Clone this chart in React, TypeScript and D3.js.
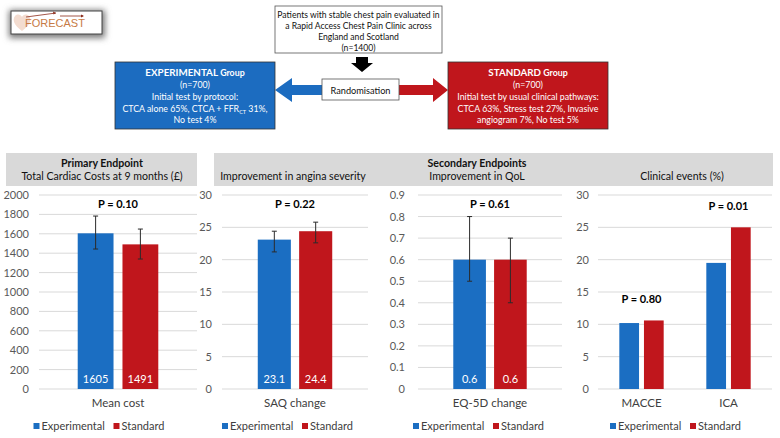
import React from 'react';
import * as d3 from 'd3';

// ---------- data ----------
const seriesNames = ['Experimental', 'Standard'];
const seriesColors = ['#1b6ec2', '#c0161c'];

const costCategories = ['Mean cost'];
const costExperimental = [1605];
const costStandard = [1491];
const costExpError = [[1443, 1783]];
const costStdError = [[1340, 1649]];
const costTicks = [0, 200, 400, 600, 800, 1000, 1200, 1400, 1600, 1800, 2000];
const costPValues = ['P = 0.10'];
const costBarLabels = [['1605'], ['1491']];

const saqCategories = ['SAQ change'];
const saqExperimental = [23.1];
const saqStandard = [24.4];
const saqExpError = [[21.2, 24.4]];
const saqStdError = [[22.6, 25.8]];
const saqTicks = [0, 5, 10, 15, 20, 25, 30];
const saqPValues = ['P = 0.22'];
const saqBarLabels = [['23.1'], ['24.4']];

const eqCategories = ['EQ-5D change'];
const eqExperimental = [0.6];
const eqStandard = [0.6];
const eqExpError = [[0.5, 0.8]];
const eqStdError = [[0.4, 0.7]];
const eqTicks = [0, 0.1, 0.2, 0.3, 0.4, 0.5, 0.6, 0.7, 0.8, 0.9];
const eqPValues = ['P = 0.61'];
const eqBarLabels = [['0.6'], ['0.6']];

const eventCategories = ['MACCE', 'ICA'];
const eventExperimental = [10.2, 19.5];
const eventStandard = [10.6, 25];
const eventTicks = [0, 5, 10, 15, 20, 25, 30];
const eventPValues = ['P = 0.80', 'P = 0.01'];

const FONT = 'Lato, "Open Sans", sans-serif';
const Y_TOP = 195;
const Y_BOTTOM = 389;

type PanelProps = {
  categories: string[];
  values: number[][];
  errors?: number[][][];
  ticks: number[];
  tickFmt: (v: number) => string;
  pValues: string[];
  barLabels?: string[][];
  labelEnd: number;
  x0: number;
  x1: number;
  outer0: number;
  outer1: number;
};

function Panel(p: PanelProps) {
  const y = d3.scaleLinear().domain([0, p.ticks[p.ticks.length - 1]]).range([Y_BOTTOM, Y_TOP]);
  const xc = d3.scaleBand<string>().domain(p.categories).range([p.x0, p.x1]).padding(0);
  const groupW = xc.bandwidth() * 0.51;
  const xs = d3.scaleBand<string>().domain(seriesNames).range([0, groupW]).paddingInner(0.2).paddingOuter(0);
  const bw = xs.bandwidth();
  const legendCenter = (p.outer0 + p.outer1) / 2;
  return (
    <g>
      {p.ticks.map((t) => (
        <g key={t}>
          <line x1={p.x0} x2={p.x1} y1={y(t)} y2={y(t)} stroke="#d9d9d9" strokeWidth={1} />
          <text x={p.labelEnd} y={y(t) + 4} textAnchor="end" fontSize={11} fill="#595959">
            {p.tickFmt(t)}
          </text>
        </g>
      ))}
      {p.categories.map((c, ci) => {
        const gx = (xc(c) as number) + (xc.bandwidth() - groupW) / 2;
        return (
          <g key={c}>
            {seriesNames.map((s, si) => {
              const v = p.values[si][ci];
              const bx = gx + (xs(s) as number);
              const err = p.errors ? p.errors[si][ci] : null;
              return (
                <g key={s}>
                  <rect x={bx} y={y(v)} width={bw} height={y(0) - y(v)} fill={seriesColors[si]} />
                  {p.barLabels && (
                    <text x={bx + bw / 2} y={383} textAnchor="middle" fontSize={11} fill="#ffffff">
                      {p.barLabels[si][ci]}
                    </text>
                  )}
                  {err && (
                    <g stroke="#2b2b2b" strokeWidth={1}>
                      <line x1={bx + bw / 2} x2={bx + bw / 2} y1={y(err[0])} y2={y(err[1])} />
                      <line x1={bx + bw / 2 - 2.5} x2={bx + bw / 2 + 2.5} y1={y(err[0])} y2={y(err[0])} />
                      <line x1={bx + bw / 2 - 2.5} x2={bx + bw / 2 + 2.5} y1={y(err[1])} y2={y(err[1])} />
                    </g>
                  )}
                </g>
              );
            })}
            {(() => {
              const tops = seriesNames.map((_, si) =>
                y(p.errors ? p.errors[si][ci][1] : p.values[si][ci])
              );
              const top = Math.min(...tops);
              const py = Math.max(Y_TOP + 9, top - 21);
              return (
                <text x={gx + groupW / 2} y={py + 4} textAnchor="middle" fontSize={11} fontWeight="bold" fill="#000">
                  {p.pValues[ci]}
                </text>
              );
            })()}
            <text x={gx + groupW / 2} y={407} textAnchor="middle" fontSize={11.5} fill="#404040">
              {c}
            </text>
          </g>
        );
      })}
      {(() => {
        const w1 = 70;
        const w2 = 56;
        const start = legendCenter - (w1 + w2 + 10) / 2;
        return (
          <g fontSize={11} fill="#404040">
            <rect x={start} y={423} width={6} height={6} fill={seriesColors[0]} />
            <text x={start + 8} y={430}>{seriesNames[0]}</text>
            <rect x={start + w1 + 10} y={423} width={6} height={6} fill={seriesColors[1]} />
            <text x={start + w1 + 18} y={430}>{seriesNames[1]}</text>
          </g>
        );
      })()}
    </g>
  );
}

function Flowchart() {
  const blue = '#1c6cc0';
  const red = '#c0161c';
  return (
    <g>
      <defs>
        <filter id="sh" x="-20%" y="-40%" width="140%" height="180%">
          <feGaussianBlur stdDeviation="3" />
        </filter>
      </defs>
      {/* logo */}
      <rect x={9} y={10} width={96} height={28} fill="#777" filter="url(#sh)" />
      <rect x={11} y={11} width={91} height={23} fill="#fff" stroke="#444" strokeWidth={1} />
      <path d="M22,31 C14,25 12,20 15,16 C18,13 21,15 22,17 C23,15 26,13 29,16 C32,20 30,25 22,31 Z" fill="#f3dcd0" />
      <text x={25} y={27} fontSize={11} fill="#c77a45" fontFamily="Arial, sans-serif">FORECAST</text>
      <line x1={26} y1={17} x2={56} y2={13} stroke="#8b2b1a" strokeWidth={0.8} />
      <path d="M56,13 l-3,-1.5 l0.5,3 z" fill="#8b2b1a" />
      <line x1={60} y1={16} x2={83} y2={16} stroke="#8b2b1a" strokeWidth={0.8} />
      <path d="M84,16 l-3,-1.5 l0,3 z" fill="#8b2b1a" />

      {/* top box */}
      <rect x={275} y={6} width={167} height={47} fill="#fff" stroke="#555" strokeWidth={0.8} />
      <g fontSize={8.6} textAnchor="middle" fill="#111">
        <text x={358.5} y={18}>Patients with stable chest pain evaluated in</text>
        <text x={358.5} y={29}>a Rapid Access Chest Pain Clinic across</text>
        <text x={358.5} y={40}>England and Scotland</text>
        <text x={358.5} y={51}>(n=1400)</text>
      </g>
      {/* down arrow */}
      <path d="M356,57 L368,57 L368,63 L373,63 L362,72 L351,63 L356,63 Z" fill="#000" />
      {/* blue arrow */}
      <path d="M322,85 L292,85 L292,78 L275,90 L292,102 L292,95 L322,95 Z" fill={blue} />
      {/* red arrow */}
      <path d="M399,85 L433,85 L433,78 L448,90 L433,102 L433,95 L399,95 Z" fill={red} />
      <rect x={322} y={79} width={77} height={21} fill="#fff" stroke="#555" strokeWidth={0.8} />
      <text x={360.5} y={93.5} fontSize={9.2} textAnchor="middle" fill="#111">Randomisation</text>

      {/* experimental box */}
      <rect x={115} y={62} width={160} height={67} fill={blue} stroke="#333" strokeWidth={0.8} />
      <g fontSize={8.8} textAnchor="middle" fill="#fff">
        <text x={195} y={76} fontWeight="bold"><tspan fontSize={9.8}>EXPERIMENTAL</tspan> Group</text>
        <text x={195} y={88}>(n=700)</text>
        <text x={195} y={100}>Initial test by protocol:</text>
        <text x={195} y={112}>CTCA alone 65%, CTCA + FFR<tspan fontSize={5.5} dy={2}>CT</tspan><tspan dy={-2}> 31%,</tspan></text>
        <text x={195} y={123}>No test 4%</text>
      </g>

      {/* standard box */}
      <rect x={448} y={62} width={160} height={67} fill={red} stroke="#333" strokeWidth={0.8} />
      <g fontSize={8.8} textAnchor="middle" fill="#fff">
        <text x={528} y={76} fontWeight="bold"><tspan fontSize={9.8}>STANDARD</tspan> Group</text>
        <text x={528} y={88}>(n=700)</text>
        <text x={528} y={100}>Initial test by usual clinical pathways:</text>
        <text x={528} y={112}>CTCA 63%, Stress test 27%, Invasive</text>
        <text x={528} y={123}>angiogram 7%, No test 5%</text>
      </g>
    </g>
  );
}

export default function App() {
  const fmtInt = (v: number) => d3.format('d')(v);
  const fmtDec = (v: number) => (v === 0 ? '0' : d3.format('.1f')(v));
  return (
    <svg
      width={780}
      height={438}
      style={{ position: 'fixed', left: 0, top: 0, display: 'block', background: '#fff' }}
      fontFamily={FONT}
    >
      <Flowchart />
      {/* headers */}
      <rect x={6} y={153} width={191} height={33} fill="#d9d9d9" />
      <rect x={214} y={153} width={559} height={33} fill="#d9d9d9" />
      <g fontSize={10.6} textAnchor="middle" fill="#111">
        <text x={102} y={167} fontWeight="bold">Primary Endpoint</text>
        <text x={102} y={180}>Total Cardiac Costs at 9 months (£)</text>
        <text x={477} y={167} fontWeight="bold">Secondary Endpoints</text>
        <text x={293} y={180}>Improvement in angina severity</text>
        <text x={477} y={180}>Improvement in QoL</text>
        <text x={682} y={180}>Clinical events (%)</text>
      </g>
      <Panel
        categories={costCategories}
        values={[costExperimental, costStandard]}
        errors={[costExpError, costStdError]}
        ticks={costTicks}
        tickFmt={fmtInt}
        pValues={costPValues}
        barLabels={costBarLabels}
        labelEnd={29}
        x0={39}
        x1={197}
        outer0={6}
        outer1={197}
      />
      <Panel
        categories={saqCategories}
        values={[saqExperimental, saqStandard]}
        errors={[saqExpError, saqStdError]}
        ticks={saqTicks}
        tickFmt={fmtInt}
        pValues={saqPValues}
        barLabels={saqBarLabels}
        labelEnd={212}
        x0={222}
        x1={368}
        outer0={200}
        outer1={380}
      />
      <Panel
        categories={eqCategories}
        values={[eqExperimental, eqStandard]}
        errors={[eqExpError, eqStdError]}
        ticks={eqTicks}
        tickFmt={fmtDec}
        pValues={eqPValues}
        barLabels={eqBarLabels}
        labelEnd={405}
        x0={418}
        x1={562}
        outer0={392}
        outer1={570}
      />
      <Panel
        categories={eventCategories}
        values={[eventExperimental, eventStandard]}
        ticks={eventTicks}
        tickFmt={fmtInt}
        pValues={eventPValues}
        labelEnd={589}
        x0={598}
        x1={772}
        outer0={577}
        outer1={779}
      />
    </svg>
  );
}
